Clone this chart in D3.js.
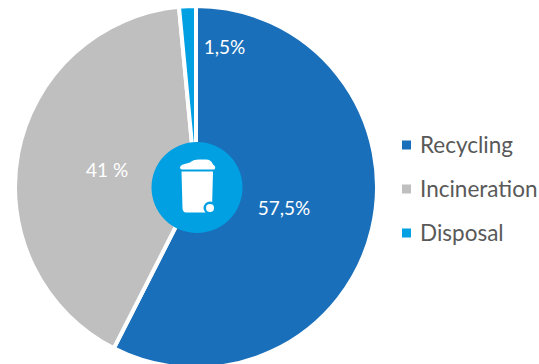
<!DOCTYPE html>
<html>
<head>
<meta charset="utf-8">
<script src="https://cdnjs.cloudflare.com/ajax/libs/d3/7.8.5/d3.min.js"></script>
<style>
html,body{margin:0;padding:0;background:#fff}
svg{display:block}
text{font-family:Lato,"Open Sans",sans-serif}
</style>
</head>
<body>
<svg id="chart" width="539" height="364"></svg>
<script>
// Waste treatment shares, in percent
const categories = ["Recycling", "Incineration", "Disposal"];
const shares = [57.5, 41, 1.5];
const shareLabels = ["57,5%", "41 %", "1,5%"];
const sliceColors = ["#1a6fba", "#bfbfbf", "#00a0e3"];

const svg = d3.select("#chart");
const cx = 196, cy = 187, radius = 181;

const pie = d3.pie().sort(null).value(d => d);
const arcs = pie(shares);
const arc = d3.arc().innerRadius(0).outerRadius(radius);

const plot = svg.append("g").attr("transform", `translate(${cx},${cy})`);

// The white stroke eats 2px of the outer radius and separates the slices
plot.selectAll("path.slice")
  .data(arcs)
  .join("path")
  .attr("class", "slice")
  .attr("d", arc)
  .attr("fill", (d, i) => sliceColors[i])
  .attr("stroke", "#fff")
  .attr("stroke-width", 4)
  .attr("stroke-linejoin", "miter");

// Value labels: a fraction of the radius, plus a sideways nudge for the thin slice
const labelRadius = [0.5, 0.5, 0.77];
const labelNudge = [0, 0, 35];
plot.selectAll("text.value")
  .data(arcs)
  .join("text")
  .attr("class", "value")
  .attr("transform", (d, i) => {
    const a = (d.startAngle + d.endAngle) / 2;
    const r = radius * labelRadius[i];
    return `translate(${r * Math.sin(a) + labelNudge[i]},${-r * Math.cos(a)})`;
  })
  .attr("text-anchor", "middle")
  .attr("dy", "0.35em")
  .attr("font-size", 19)
  .attr("fill", "#fff")
  .text((d, i) => shareLabels[i]);

// Central badge with a wheeled waste bin
const badge = plot.append("g").attr("transform", "translate(1,0.5)");
badge.append("circle").attr("r", 45.5).attr("fill", "#00a0e3");
badge.append("path").attr("fill", "#fff").attr("d",
  "M-15.5,-16 L16,-16 L15,21 Q15,25 11,25 L-11,25 Q-14,25 -14.5,21 Z");
badge.append("path").attr("fill", "#fff").attr("d",
  "M-17,-20 Q-17,-22 -14,-23 L-7,-25 Q-4,-28 2,-28 L9,-28 Q14,-28 16,-23 Q19,-21 18,-19 Q18,-18 16,-18 L-15,-18 Q-17,-18 -17,-20 Z");
badge.append("circle").attr("cx", 13).attr("cy", 20.5).attr("r", 6.5).attr("fill", "#00a0e3");
badge.append("circle").attr("cx", 13).attr("cy", 20.5).attr("r", 4).attr("fill", "#fff");

// Legend
const legendY = d3.scalePoint().domain(categories).range([145, 233]);
const legend = svg.append("g");
const rows = legend.selectAll("g")
  .data(categories)
  .join("g")
  .attr("transform", d => `translate(402,${legendY(d)})`);
rows.append("rect")
  .attr("y", -4.5)
  .attr("width", 9)
  .attr("height", 9)
  .attr("fill", (d, i) => sliceColors[i]);
rows.append("text")
  .attr("x", 18)
  .attr("dy", "0.35em")
  .attr("font-size", 22.5)
  .attr("fill", "#595959")
  .text(d => d);
</script>
</body>
</html>
